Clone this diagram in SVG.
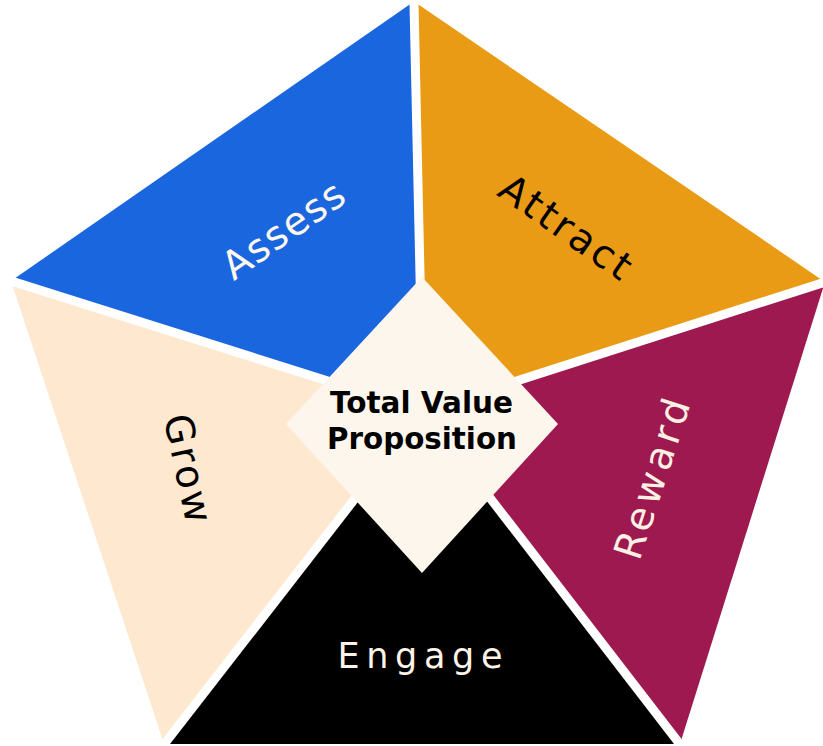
<svg xmlns="http://www.w3.org/2000/svg" width="823" height="746" viewBox="0 0 823 746">
  <style>
    .label { font-family: "DejaVu Sans", "Liberation Sans", sans-serif; font-weight: 400; text-anchor: middle; }
    .title { font-family: "DejaVu Sans", "Liberation Sans", sans-serif; font-weight: 700; font-size: 29.5px; text-anchor: middle; fill: #000000; }
    .sep { stroke: #ffffff; stroke-width: 9; stroke-linecap: butt; fill: none; }
  </style>
  <rect width="823" height="746" fill="#ffffff"/>

  <!-- five wedges of the pentagon, all meeting at the centre (423,411) -->
  <g id="assess">
    <polygon points="11,281 414,1.5 423,411" fill="#1A66DE"/>
    <text class="label" font-size="39" fill="#FFF7EC" textLength="140" lengthAdjust="spacing" transform="translate(291,241) rotate(-35)">Assess</text>
  </g>
  <g id="attract">
    <polygon points="414,1.5 825,282 423,411" fill="#EA9B15"/>
    <text class="label" font-size="39" fill="#000000" textLength="152" lengthAdjust="spacing" transform="translate(558,238) rotate(35)">Attract</text>
  </g>
  <g id="reward">
    <polygon points="825,282 680,744 423,411" fill="#9E1950"/>
    <text class="label" font-size="39" fill="#FCEFE3" textLength="166" lengthAdjust="spacing" transform="translate(665,483) rotate(-72)">Reward</text>
  </g>
  <g id="engage">
    <polygon points="680,744 164,744 423,411" fill="#000000"/>
    <text class="label" font-size="35" fill="#FDF3E6" textLength="165" lengthAdjust="spacing" x="420" y="668">Engage</text>
  </g>
  <g id="grow">
    <polygon points="164,744 11,281 423,411" fill="#FEE8D0"/>
    <text class="label" font-size="39" fill="#000000" textLength="110" lengthAdjust="spacing" transform="translate(175,471) rotate(78)">Grow</text>
  </g>

  <!-- white gaps between the wedges -->
  <g id="connectors">
    <line class="sep" x1="423" y1="411" x2="413.7" y2="-10"/>
    <line class="sep" x1="423" y1="411" x2="835" y2="278.8"/>
    <line class="sep" x1="423" y1="411" x2="689" y2="756"/>
    <line class="sep" x1="423" y1="411" x2="155" y2="756"/>
    <line class="sep" x1="423" y1="411" x2="-10" y2="274.4"/>
  </g>

  <!-- centre diamond -->
  <g id="total-value">
    <polygon points="422,277 558,424 422,573 286,424" fill="#FDF6EC"/>
    <text class="title" x="421.5" y="413" textLength="183" lengthAdjust="spacingAndGlyphs">Total Value</text>
    <text class="title" x="422" y="449" textLength="190" lengthAdjust="spacingAndGlyphs">Proposition</text>
  </g>
</svg>
